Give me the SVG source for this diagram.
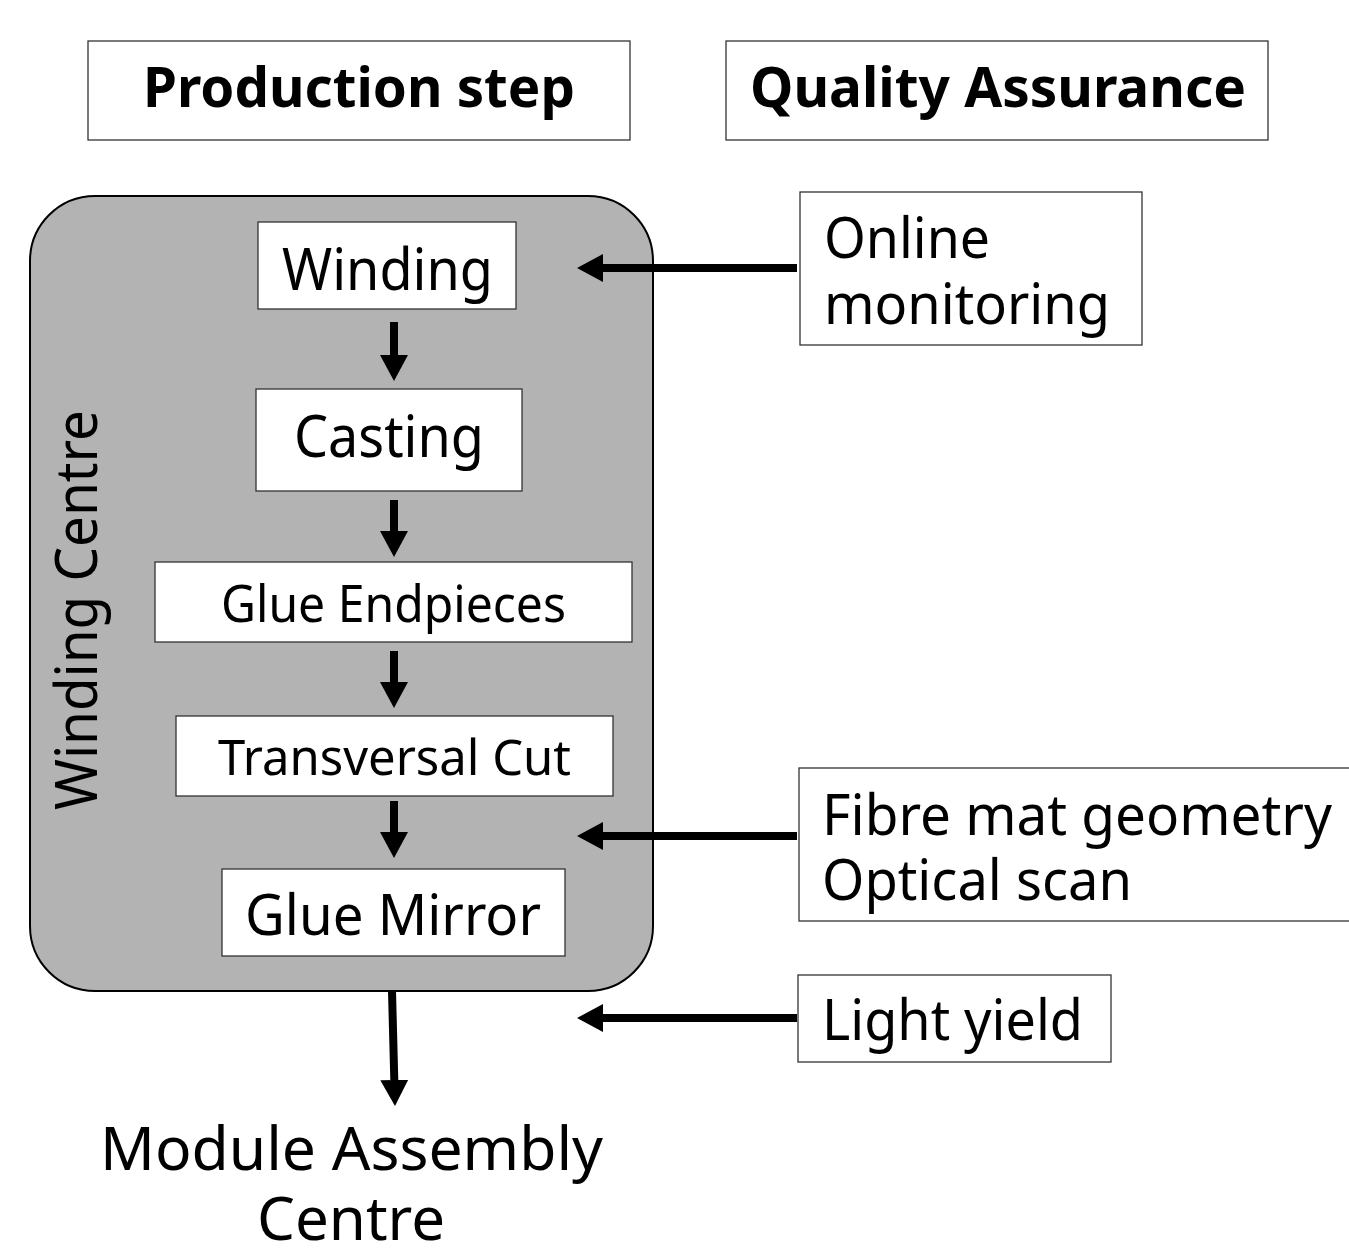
<svg xmlns="http://www.w3.org/2000/svg" width="1349" height="1252" viewBox="0 0 1349 1252">
<style>
.box{fill:#fff;stroke:#333;stroke-width:1.3}
.t{font-family:"Noto Sans","Open Sans","DejaVu Sans",sans-serif;fill:#000}
.b{font-weight:bold}
.conn{stroke:#000;stroke-width:8;fill:none}
</style>
<defs>
<marker id="ah" markerUnits="userSpaceOnUse" markerWidth="30" markerHeight="30" refX="0" refY="14" orient="auto">
<path d="M0,0 L26,14 L0,28 Z" fill="#000"/>
</marker>
</defs>
<rect width="1349" height="1252" fill="#fff"/>

<g id="hdr-production">
<rect class="box" x="88" y="41" width="542" height="99"/>
<text class="t b" x="143" y="107" font-size="56" textLength="432" lengthAdjust="spacingAndGlyphs">Production step</text>
</g>
<g id="hdr-qa">
<rect class="box" x="726" y="41" width="542" height="99"/>
<text class="t b" x="750" y="107" font-size="56" textLength="496" lengthAdjust="spacingAndGlyphs">Quality Assurance</text>
</g>

<g id="winding-centre">
<rect x="30" y="196" width="623" height="795" rx="65" ry="65" fill="#b3b3b3" stroke="#000" stroke-width="2"/>
<text class="t" transform="translate(97,810) rotate(-90)" font-size="58" textLength="400" lengthAdjust="spacingAndGlyphs">Winding Centre</text>
</g>

<g id="winding">
<rect class="box" x="258" y="222" width="258" height="87"/>
<text class="t" x="282" y="290" font-size="59" textLength="211" lengthAdjust="spacingAndGlyphs">Winding</text>
</g>
<g id="casting">
<rect class="box" x="256" y="389" width="266" height="102"/>
<text class="t" x="294" y="457" font-size="59" textLength="190" lengthAdjust="spacingAndGlyphs">Casting</text>
</g>
<g id="glue-endpieces">
<rect class="box" x="155" y="562" width="477" height="80"/>
<text class="t" x="221" y="622" font-size="51" textLength="345" lengthAdjust="spacingAndGlyphs">Glue Endpieces</text>
</g>
<g id="transversal-cut">
<rect class="box" x="176" y="716" width="437" height="80"/>
<text class="t" x="218" y="775" font-size="50" textLength="353" lengthAdjust="spacingAndGlyphs">Transversal Cut</text>
</g>
<g id="glue-mirror">
<rect class="box" x="222" y="869" width="343" height="87"/>
<text class="t" x="245" y="935" font-size="56" textLength="296" lengthAdjust="spacingAndGlyphs">Glue Mirror</text>
</g>

<g id="online-monitoring">
<rect class="box" x="800" y="192" width="342" height="153"/>
<text class="t" x="824" y="258" font-size="57" textLength="166" lengthAdjust="spacingAndGlyphs">Online</text>
<text class="t" x="824" y="324" font-size="57" textLength="286" lengthAdjust="spacingAndGlyphs">monitoring</text>
</g>
<g id="fibre-mat">
<rect class="box" x="799" y="768" width="560" height="153"/>
<text class="t" x="822" y="835" font-size="57" textLength="510" lengthAdjust="spacingAndGlyphs">Fibre mat geometry</text>
<text class="t" x="822" y="900" font-size="57" textLength="310" lengthAdjust="spacingAndGlyphs">Optical scan</text>
</g>
<g id="light-yield">
<rect class="box" x="798" y="975" width="313" height="87"/>
<text class="t" x="822" y="1040" font-size="57" textLength="261" lengthAdjust="spacingAndGlyphs">Light yield</text>
</g>

<g id="module-assembly">
<text class="t" x="100" y="1170" font-size="61" textLength="503" lengthAdjust="spacingAndGlyphs">Module Assembly</text>
<text class="t" x="257" y="1240" font-size="61" textLength="188" lengthAdjust="spacingAndGlyphs">Centre</text>
</g>

<g id="connectors">
<line class="conn" x1="394" y1="322" x2="394" y2="355" marker-end="url(#ah)"/>
<line class="conn" x1="394" y1="500" x2="394" y2="531" marker-end="url(#ah)"/>
<line class="conn" x1="394" y1="651" x2="394" y2="682" marker-end="url(#ah)"/>
<line class="conn" x1="394" y1="801" x2="394" y2="832" marker-end="url(#ah)"/>
<line class="conn" x1="392" y1="991" x2="394.3" y2="1080" marker-end="url(#ah)"/>
<line class="conn" x1="797" y1="268" x2="603" y2="268" marker-end="url(#ah)"/>
<line class="conn" x1="797" y1="836" x2="603" y2="836" marker-end="url(#ah)"/>
<line class="conn" x1="797" y1="1018" x2="603" y2="1018" marker-end="url(#ah)"/>
</g>
</svg>
